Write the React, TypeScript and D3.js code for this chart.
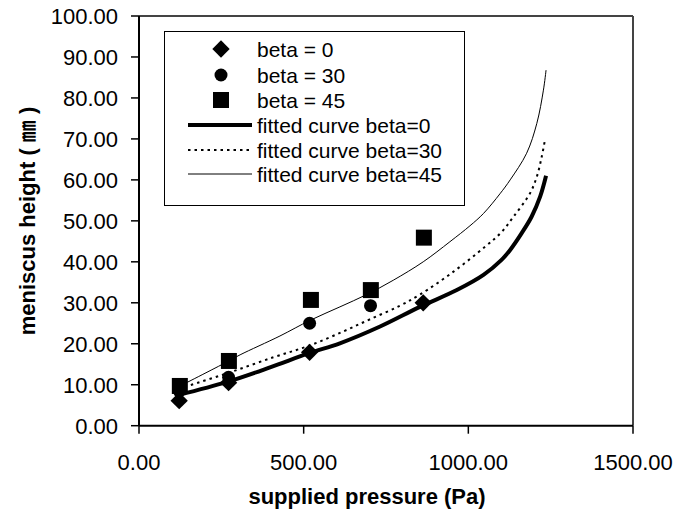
import React from 'react';
import * as d3 from 'd3';

// measured points
const beta0X = [122, 272, 518, 863];
const beta0Y = [6.1, 10.5, 17.9, 30.0];
const beta30X = [122, 272, 518, 703];
const beta30Y = [8.5, 11.8, 25.0, 29.3];
const beta45X = [124, 273, 522, 704, 865];
const beta45Y = [9.7, 15.8, 30.7, 33.1, 45.9];

// fitted curves
const fit0X = [120, 268, 400, 516, 610, 732, 853, 965, 1046, 1100, 1127, 1162, 1192, 1218, 1236];
const fit0Y = [7.5, 10.7, 14.3, 17.7, 20.1, 24.2, 29.0, 33.1, 36.8, 40.4, 42.9, 47.0, 51.0, 55.9, 61.0];
const fit30X = [120, 268, 408, 519, 620, 702, 790, 853, 955, 1051, 1100, 1137, 1187, 1208, 1223, 1233];
const fit30Y = [9.0, 12.8, 16.7, 19.6, 23.0, 26.0, 29.2, 32.0, 37.6, 43.7, 47.2, 51.0, 56.7, 60.8, 65.7, 69.9];
const fit45X = [120, 268, 307, 428, 519, 610, 691, 772, 863, 944, 1005, 1046, 1096, 1127, 1177, 1208, 1228, 1236];
const fit45Y = [9.5, 15.6, 17.3, 21.9, 25.7, 29.0, 32.0, 35.5, 40.0, 44.9, 48.8, 51.8, 56.6, 60.0, 66.5, 73.8, 81.9, 86.8];

const xTicks = [0, 500, 1000, 1500];
const yTicks = [0, 10, 20, 30, 40, 50, 60, 70, 80, 90, 100];

const legendLabels = ['beta = 0', 'beta = 30', 'beta = 45', 'fitted curve beta=0', 'fitted curve beta=30', 'fitted curve beta=45'];

const FONT = '"Liberation Sans", Arial, "Noto Sans CJK SC", sans-serif';

const App = () => {
  const x = d3.scaleLinear().domain([0, 1500]).range([139, 633]);
  const y = d3.scaleLinear().domain([0, 100]).range([425.7, 16]);

  const line = d3.line<[number, number]>()
    .x(d => x(d[0]))
    .y(d => y(d[1]))
    .curve(d3.curveCatmullRom.alpha(0.5));

  const zip = (xs: number[], ys: number[]) => xs.map((v, i) => [v, ys[i]] as [number, number]);

  const square = d3.symbol(d3.symbolSquare, 256)();
  const diamond = d3.symbol(d3.symbolSquare, 150)();

  const fits = [
    { d: zip(fit0X, fit0Y), w: 4, dash: undefined },
    { d: zip(fit30X, fit30Y), w: 2, dash: '2.5,4' },
    { d: zip(fit45X, fit45Y), w: 1, dash: undefined },
  ];

  const legendY = [49, 75, 100, 125, 150, 174];

  return (
    <svg width={694} height={512} style={{ position: 'absolute', left: 0, top: 0, background: '#fff' }} fontFamily={FONT}>
      {/* plot frame */}
      <line x1={x(0)} x2={x(1500)} y1={y(100)} y2={y(100)} stroke="#444" strokeWidth={2} />
      <line x1={x(1500)} x2={x(1500)} y1={y(100)} y2={y(0)} stroke="#444" strokeWidth={2} />
      <line x1={x(0)} x2={x(0)} y1={y(100)} y2={y(0)} stroke="#000" strokeWidth={2} />
      <line x1={x(0)} x2={x(1500)} y1={y(0)} y2={y(0)} stroke="#000" strokeWidth={2} />

      {yTicks.map(t => (
        <g key={'y' + t}>
          <line x1={x(0) - 8} x2={x(0)} y1={y(t)} y2={y(t)} stroke="#000" strokeWidth={1.5} />
          <text x={118} y={y(t)} dy="0.36em" textAnchor="end" fontSize={22}>{t.toFixed(2)}</text>
        </g>
      ))}
      {xTicks.map(t => (
        <g key={'x' + t}>
          <line x1={x(t)} x2={x(t)} y1={y(0)} y2={y(0) + 8} stroke="#000" strokeWidth={1.5} />
          <text x={x(t)} y={462} dy="0.36em" textAnchor="middle" fontSize={22}>{t.toFixed(2)}</text>
        </g>
      ))}

      <text x={367} y={496} dy="0.36em" textAnchor="middle" fontSize={22} fontWeight="bold">supplied pressure (Pa)</text>
      <text transform="translate(27,221) rotate(-90)" dy="0.36em" textAnchor="middle" fontSize={22} fontWeight="bold">meniscus height ( ㎜ )</text>

      {/* fitted curves */}
      {fits.map((f, i) => (
        <path key={'f' + i} d={line(f.d) || ''} fill="none" stroke="#000" strokeWidth={f.w} strokeDasharray={f.dash} />
      ))}

      {/* measured points */}
      {beta30X.map((v, i) => (
        <circle key={'c' + i} cx={x(v)} cy={y(beta30Y[i])} r={6.5} fill="#000" />
      ))}
      {beta0X.map((v, i) => (
        <path key={'d' + i} d={diamond || ''} transform={`translate(${x(v)},${y(beta0Y[i])}) rotate(45)`} fill="#000" />
      ))}
      {beta45X.map((v, i) => (
        <path key={'s' + i} d={square || ''} transform={`translate(${x(v)},${y(beta45Y[i])})`} fill="#000" />
      ))}

      {/* legend */}
      <rect x={164.5} y={31.5} width={300} height={174} fill="#fff" stroke="#000" strokeWidth={1} />
      <path d={diamond || ''} transform={`translate(221,${legendY[0]}) rotate(45)`} fill="#000" />
      <circle cx={221} cy={legendY[1]} r={6.5} fill="#000" />
      <path d={square || ''} transform={`translate(221,${legendY[2]})`} fill="#000" />
      {fits.map((f, i) => (
        <line key={'l' + i} x1={188} x2={252} y1={legendY[3 + i]} y2={legendY[3 + i]} stroke="#000" strokeWidth={f.w} strokeDasharray={f.dash} />
      ))}
      {legendLabels.map((l, i) => (
        <text key={'t' + i} x={257} y={legendY[i]} dy="0.36em" fontSize={21}>{l}</text>
      ))}
    </svg>
  );
};

export default App;
